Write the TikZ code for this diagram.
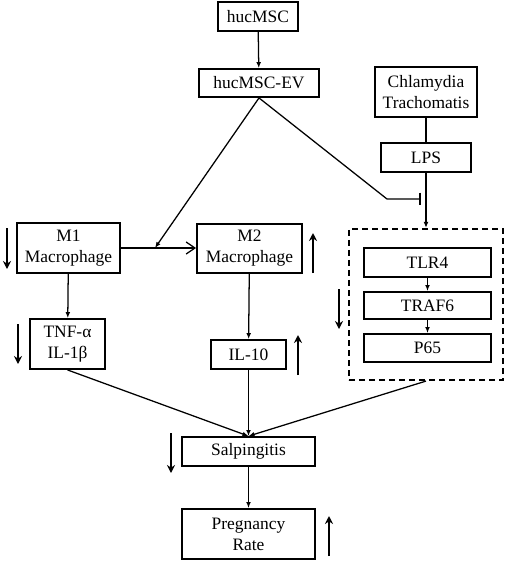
\documentclass[tikz,border=0pt]{standalone}
\usepackage{fontspec}
\setmainfont{Liberation Serif}
\usetikzlibrary{arrows.meta,positioning}

\begin{document}
\begin{tikzpicture}[x=0.025cm,y=-0.025cm,
    font=\fontsize{12.4}{14.8}\selectfont,
    box/.style={draw,line width=1.3pt,align=center,inner sep=0pt,
        minimum width=#1},
    box/.default=2cm,
    link/.style={line width=0.9pt,-{Latex[length=0.15cm,width=0.12cm]}},
    trend/.style={line width=1.5pt,-{Stealth[length=0.2cm,width=0.2cm]}}]
    % fondo fijo del tamano del dibujo
    \useasboundingbox (0,0) rectangle (505,562);

    \node[box=2cm,minimum height=0.725cm] (msc) at (258,16.5) {hucMSC};
    \node[box=3cm,minimum height=0.7cm] (ev) at (259,83) {hucMSC-EV};
    \node[box=2.55cm,minimum height=1.25cm] (chla) at (426,92) {Chlamydia\\Trachomatis};
    \node[box=2.25cm,minimum height=0.725cm] (lps) at (426,157.5) {LPS};

    \node[box=2.575cm,minimum height=1.25cm] (mone) at (68.5,248) {M1\\Macrophage};
    \node[box=2.625cm,minimum height=1.225cm] (mtwo) at (249.5,248.5) {M2\\Macrophage};

    \node[draw,line width=1.5pt,dash pattern=on 0.15cm off 0.1cm,
        minimum width=3.85cm,minimum height=3.775cm] (route) at (426,304.5) {};
    \node[box=3.175cm,minimum height=0.725cm] (tlr) at (427.5,262.5) {TLR4};
    \node[box=3.175cm,minimum height=0.675cm] (traf) at (427.5,305.5) {TRAF6};
    \node[box=3.175cm,minimum height=0.7cm] (pfive) at (427.5,348) {P65};

    \node[box=1.875cm,minimum height=1.25cm] (tnf) at (67.5,344) {TNF-α\\IL-1β};
    \node[box=1.875cm,minimum height=0.725cm] (ilten) at (248.5,354.5) {IL-10};
    \node[box=3.325cm,minimum height=0.725cm] (salp) at (248.5,451.5) {Salpingitis};
    \node[box=3.325cm,minimum height=1.25cm] (preg) at (248.5,534) {Pregnancy\\Rate};

    \coordinate (hit) at (155,248);
    \coordinate (knee) at (387,199);
    \coordinate (stop) at (421,199);

    \draw[link] (msc) -- (ev);
    \draw[link] (ev.south) -- (hit);
    \draw[line width=0.9pt,-{Bar[width=0.32cm,line width=1.3pt]}] (ev.south) -- (knee) -- (stop);
    \draw[line width=0.9pt] (chla) -- (lps);
    \draw[link] (lps) -- (route.north);
    \draw[line width=0.9pt,-{Straight Barb[length=0.22cm,width=0.3cm,line width=0.9pt]}]
        (mone.east |- hit) -- (mtwo.west |- hit);
    \draw[link] (tlr) -- (traf);
    \draw[link] (traf) -- (pfive);
    \draw[link] (mone) -- (tnf);
    \draw[link] (mtwo) -- (ilten);
    \draw[link] (tnf.south) -- (salp.north);
    \draw[link] (ilten) -- (salp);
    \draw[link] (route.south) -- (salp.north);
    \draw[link] (salp) -- (preg);

    % flechas de tendencia
    \draw[trend] (7,228) -- (7,269);
    \draw[trend] (313,273) -- (313,233);
    \draw[trend] (18,324) -- (18,364);
    \draw[trend] (298,375) -- (298,335);
    \draw[trend] (339,289) -- (339,329);
    \draw[trend] (171,433) -- (171,473);
    \draw[trend] (329,556) -- (329,516);
\end{tikzpicture}
\end{document}
